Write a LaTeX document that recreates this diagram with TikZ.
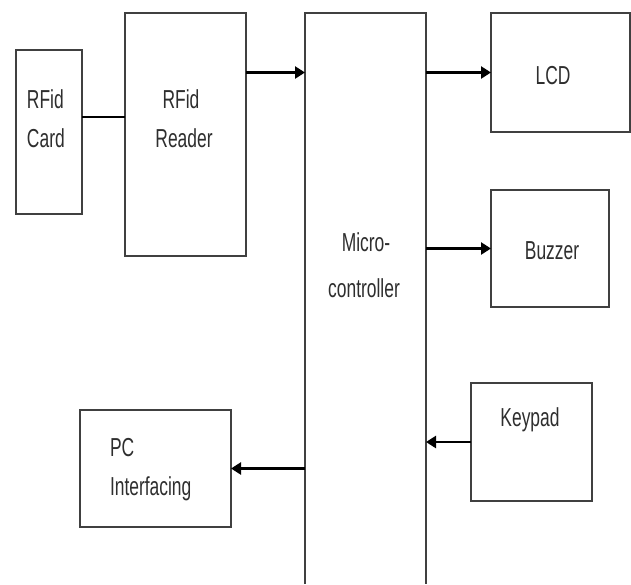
\documentclass[tikz,border=0pt]{standalone}
\usepackage{fontspec}
\setmainfont{Liberation Sans}[FakeStretch=0.67]
\usetikzlibrary{arrows.meta}
\definecolor{boxline}{rgb}{0.25,0.25,0.25}
\definecolor{txt}{rgb}{0.18,0.18,0.18}
\begin{document}
\begin{tikzpicture}[x=1pt,y=-1pt,
  blk/.style={draw=boxline,line width=2.2pt,rectangle,inner sep=0pt,outer sep=0pt},
  lbl/.style={inner sep=0pt,outer sep=0pt,text=txt,font=\fontsize{26}{30}\selectfont},
  arr/.style={draw=black,line width=2.4pt,-{Triangle[length=10pt,width=12pt]}},
  plain/.style={draw=black,line width=1.6pt}]
\useasboundingbox (0,0) rectangle (631,584);
% blocks
\node[blk,minimum width=66pt,minimum height=164pt] (card) at (49,132) {};
\node[blk,minimum width=121pt,minimum height=243pt] (reader) at (185.5,134.5) {};
\node[inner sep=0pt,outer sep=0pt,minimum width=121pt,minimum height=571pt] (micro) at (365.5,298.5) {};
\draw[boxline,line width=2.2pt] (micro.south west) -- (micro.north west) -- (micro.north east) -- (micro.south east);
\node[blk,minimum width=139pt,minimum height=119pt] (lcd) at (560.5,72.5) {};
\node[blk,minimum width=118pt,minimum height=117pt] (buzzer) at (550,248.5) {};
\node[blk,minimum width=121pt,minimum height=118pt] (keypad) at (531.5,442) {};
\node[blk,minimum width=151pt,minimum height=117pt] (pc) at (155.5,468.5) {};
% labels
\node[lbl,anchor=base west] (cardA) at (27,108) {RFid};
\node[lbl,anchor=base west] (cardB) at (27,147) {Card};
\node[lbl,anchor=base] (readerA) at (181,108) {RFid};
\node[lbl,anchor=base] (readerB) at (184,147) {Reader};
\node[lbl,anchor=base] (microA) at (366,251) {Micro-};
\node[lbl,anchor=base] (microB) at (364,297) {controller};
\node[lbl,anchor=base] (lcdA) at (553,84) {LCD};
\node[lbl,anchor=base] (buzzerA) at (552,259) {Buzzer};
\node[lbl,anchor=base] (keypadA) at (530,426) {Keypad};
\node[lbl,anchor=base west] (pcA) at (110,456) {PC};
\node[lbl,anchor=base west] (pcB) at (110,495) {Interfacing};
% connectors
\draw[plain] ([yshift=15pt]card.east) -- ([yshift=15pt]card.east -| reader.west);
\draw[arr] (reader.east |- lcd.west) -- (micro.west |- lcd.west);
\draw[arr] (micro.east |- lcd.west) -- (lcd.west);
\draw[arr] (micro.east |- buzzer.west) -- (buzzer.west);
\draw[arr] (keypad.west) -- (micro.east |- keypad.west);
\draw[arr] (micro.west |- pc.east) -- (pc.east);
\end{tikzpicture}
\end{document}
